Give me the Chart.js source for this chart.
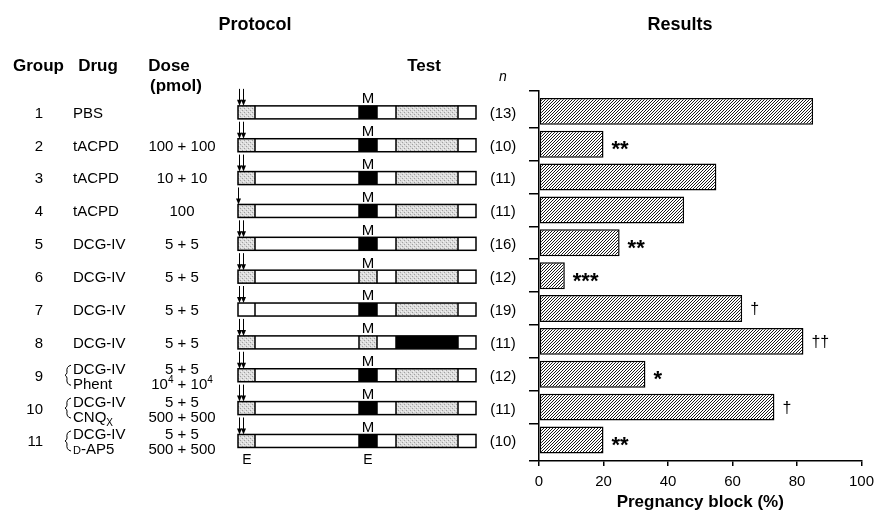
<!DOCTYPE html>
<html><head><meta charset="utf-8">
<script src="https://cdn.jsdelivr.net/npm/chart.js@4/dist/chart.umd.min.js"></script>
<style>html,body{margin:0;padding:0;background:#fff;}#wrap{width:881px;height:516px;position:relative}</style>
</head><body><div id="wrap"><canvas id="c" width="881" height="516"></canvas></div>
<script>
// ---- data ----
const groups = ['1','2','3','4','5','6','7','8','9','10','11'];
const drugs = [['PBS'],['tACPD'],['tACPD'],['tACPD'],['DCG-IV'],['DCG-IV'],['DCG-IV'],['DCG-IV'],['DCG-IV','Phent'],['DCG-IV','CNQ_X'],['DCG-IV','~D-AP5']];
const doses = [[''],['100 + 100'],['10 + 10'],['100'],['5 + 5'],['5 + 5'],['5 + 5'],['5 + 5'],['5 + 5','10^4 + 10^4'],['5 + 5','500 + 500'],['5 + 5','500 + 500']];
const nValues = ['(13)','(10)','(11)','(11)','(16)','(12)','(19)','(11)','(12)','(11)','(10)'];
const blockValues = [85,20,55,45,25,8,63,82,33,73,20];
const significance = ['','**','','','**','***','\u2020','\u2020\u2020','*','\u2020','**'];
const arrowCounts = [2,2,2,1,2,2,2,2,2,2,2];
const preFill = ['d','d','d','d','d','d','w','d','d','d','d'];
const mFill = ['b','b','b','b','b','d','b','d','b','b','b'];
const testFill = ['d','d','d','d','d','d','d','b','d','d','d'];
const xTicks = [0,20,40,60,80,100];

const FAM = "'Liberation Sans', Arial, Helvetica, sans-serif";
Chart.defaults.font.family = FAM;
Chart.defaults.color = '#000';

function makeHatch(){
  const c=document.createElement('canvas'); c.width=3; c.height=3;
  const g=c.getContext('2d'); g.fillStyle='#fff'; g.fillRect(0,0,3,3);
  g.strokeStyle='#000'; g.lineWidth=0.9;
  g.beginPath(); g.moveTo(-1,4); g.lineTo(4,-1); g.moveTo(-1,1); g.lineTo(1,-1); g.moveTo(2,4); g.lineTo(4,2); g.stroke();
  return g.createPattern(c,'repeat');
}
function makeStipple(ctx){
  const c=document.createElement('canvas'); c.width=4; c.height=4;
  const g=c.getContext('2d'); g.fillStyle='#dcdcdc'; g.fillRect(0,0,4,4);
  g.fillStyle='#a0a0a0'; g.fillRect(0,0,1,1); g.fillRect(2,2,1,1);
  g.fillStyle='#f2f2f2'; g.fillRect(1,3,1,1); g.fillRect(3,1,1,1);
  return ctx.createPattern(c,'repeat');
}

function parseRich(s){const segs=[];for(let i=0;i<s.length;i++){const c=s[i];if((c==='^'||c==='_'||c==='~')&&i+1<s.length){segs.push({t:s[i+1],k:c});i++;}else{if(segs.length&&segs[segs.length-1].k==='n')segs[segs.length-1].t+=c;else segs.push({t:c,k:'n'});}}return segs;}
function drawRich(ctx,s,x,y,align,size,style){
  const segs=parseRich(s); style=style||'';
  const fontFor=k=>style+' '+(k==='n'?size:k==='~'?Math.round(size*0.74):Math.round(size*0.68))+'px '+FAM;
  let w=0; segs.forEach(g=>{ctx.font=fontFor(g.k);g.w=ctx.measureText(g.t).width;w+=g.w;});
  let cx=align==='center'?x-w/2:align==='right'?x-w:x;
  ctx.textAlign='left'; ctx.textBaseline='alphabetic';
  const base=y+size*0.36;
  segs.forEach(g=>{ctx.font=fontFor(g.k);let dy=0;if(g.k==='^')dy=-size*0.38;if(g.k==='_')dy=size*0.3;ctx.fillText(g.t,cx,base+dy);cx+=g.w;});
}

const protocolPlugin={
  id:'protocol',
  afterDraw(chart){
    const ctx=chart.ctx, ys=chart.scales.y, xs=chart.scales.x;
    ctx.save(); ctx.fillStyle='#000'; ctx.strokeStyle='#000';
    drawRich(ctx,'Protocol',255,24,'center',18,'bold');
    drawRich(ctx,'Results',680,24,'center',18,'bold');
    drawRich(ctx,'Group',13,65,'left',17,'bold');
    drawRich(ctx,'Drug',98,65,'center',17,'bold');
    drawRich(ctx,'Dose',169,65,'center',17,'bold');
    drawRich(ctx,'(pmol)',176,85,'center',17,'bold');
    drawRich(ctx,'Test',424,65,'center',17,'bold');
    drawRich(ctx,'n',503,76,'center',14,'italic');
    const stip=makeStipple(ctx);
    const segX=[238,255,359,377,396,458,476];
    const fillOf=f=>f==='b'?'#000':f==='d'?stip:'#fff';
    groups.forEach((g,i)=>{
      const cy=ys.getPixelForValue(i);
      ctx.fillStyle='#000';
      drawRich(ctx,g,43,cy+1,'right',15);
      if(drugs[i].length===1){
        drawRich(ctx,drugs[i][0],73,cy+1,'left',15);
        drawRich(ctx,doses[i][0],182,cy+1,'center',15);
      } else {
        drawRich(ctx,drugs[i][0],73,cy-6,'left',15);
        drawRich(ctx,drugs[i][1],73,cy+9,'left',15);
        drawRich(ctx,doses[i][0],182,cy-6,'center',15);
        drawRich(ctx,doses[i][1],182,cy+9,'center',15);
        ctx.lineWidth=1; ctx.beginPath();
        ctx.moveTo(71,cy-9); ctx.quadraticCurveTo(66,cy-8,67,cy-2); ctx.quadraticCurveTo(67,cy,65,cy+1);
        ctx.quadraticCurveTo(67,cy+2,67,cy+4); ctx.quadraticCurveTo(66,cy+10,71,cy+11); ctx.stroke();
      }
      const top=cy+1-6.5, h=13;
      const fills=[preFill[i],'w',mFill[i],'w',testFill[i],'w'];
      for(let k=0;k<6;k++){ctx.fillStyle=fillOf(fills[k]);ctx.fillRect(segX[k],top,segX[k+1]-segX[k],h);}
      ctx.lineWidth=1.5; ctx.strokeStyle='#000';
      ctx.strokeRect(segX[0],top,segX[6]-segX[0],h);
      ctx.beginPath(); for(let k=1;k<6;k++){ctx.moveTo(segX[k],top);ctx.lineTo(segX[k],top+h);} ctx.stroke();
      ctx.fillStyle='#000';
      drawRich(ctx,'M',368,top-8,'center',15);
      const ax=arrowCounts[i]===2?[239.5,243.5]:[238.5];
      ax.forEach(x=>{
        ctx.lineWidth=1; ctx.beginPath(); ctx.moveTo(x,top-17); ctx.lineTo(x,top-3); ctx.stroke();
        ctx.beginPath(); ctx.moveTo(x-2.5,top-6); ctx.lineTo(x+2.5,top-6); ctx.lineTo(x,top); ctx.closePath(); ctx.fill();
      });
      drawRich(ctx,nValues[i],503,cy+1,'center',15);
      if(significance[i]){
        const sx=xs.getPixelForValue(blockValues[i])+8;
        const isStar=significance[i][0]==='*';
        ctx.font=(isStar?'bold 22px ':'16px ')+FAM; ctx.textAlign='left'; ctx.textBaseline='middle';
        ctx.fillText(significance[i],sx,cy+(isStar?6:1));
      }
    });
    const last=ys.getPixelForValue(groups.length-1);
    drawRich(ctx,'E',247,last+19,'center',14);
    drawRich(ctx,'E',368,last+19,'center',14);
    ctx.restore();
  }
};

const yTickVals=[-0.62,0.5,1.5,2.5,3.5,4.5,5.5,6.5,7.5,8.5,9.5,10.64];
new Chart(document.getElementById('c'),{
  type:'bar',
  data:{datasets:[{data:blockValues.map((v,i)=>({x:v,y:i})),backgroundColor:makeHatch(),borderColor:'#000',borderWidth:1.5,borderSkipped:false,barPercentage:0.82,categoryPercentage:1}]},
  options:{
    indexAxis:'y',responsive:false,animation:false,devicePixelRatio:1,
    layout:{padding:{left:529,right:13,top:91,bottom:0}},
    plugins:{legend:{display:false},tooltip:{enabled:false},title:{display:false}},
    scales:{
      y:{type:'linear',reverse:true,min:-0.62,max:10.64,offset:false,
        afterBuildTicks:s=>{s.ticks=yTickVals.map(v=>({value:v}));},
        ticks:{display:false},
        grid:{offset:false,drawOnChartArea:false,drawTicks:true,tickLength:10,color:'#000',lineWidth:1.5},
        border:{display:true,color:'#000',width:1.5},
        afterFit:s=>{s.width=10;}},
      x:{type:'linear',min:0,max:100,
        afterBuildTicks:s=>{s.ticks=xTicks.map(v=>({value:v}));},
        ticks:{color:'#000',font:{size:15},padding:7,maxRotation:0},
        grid:{drawOnChartArea:false,drawTicks:true,tickLength:5,color:'#000',lineWidth:1.5},
        border:{display:true,color:'#000',width:1.5},
        title:{display:true,text:'Pregnancy block (%)',color:'#000',font:{size:17,weight:'bold'},padding:{top:0,bottom:3}},
        afterFit:s=>{s.height=55;}}
    }
  },
  plugins:[protocolPlugin]
});
</script></body></html>
